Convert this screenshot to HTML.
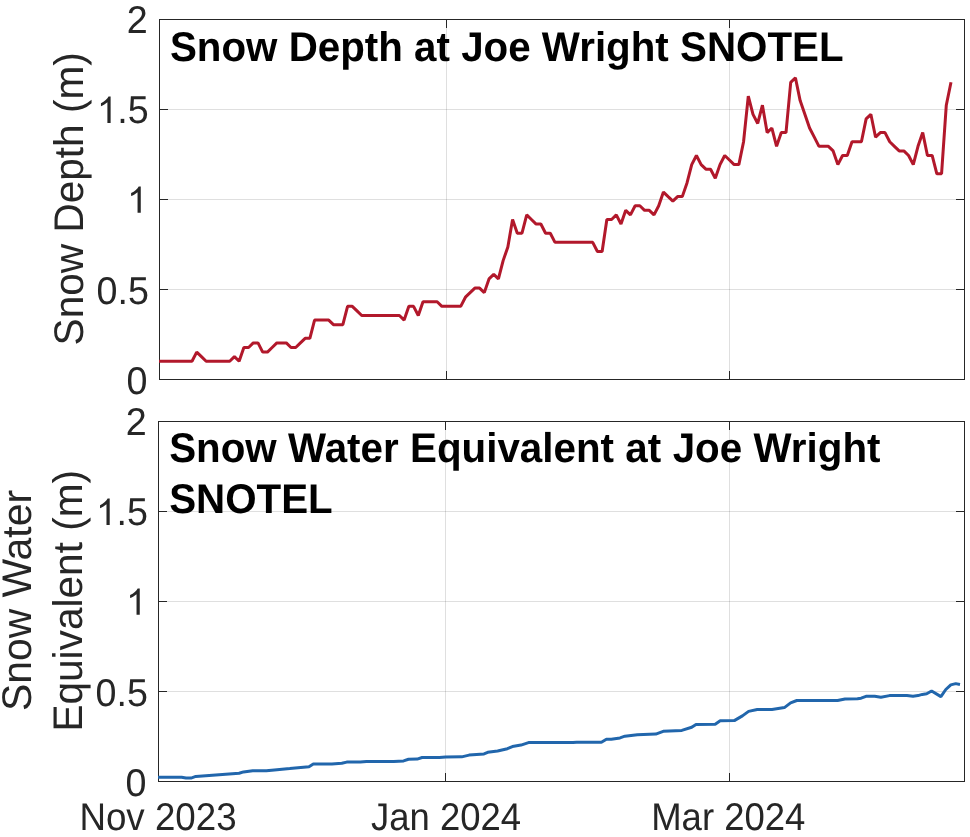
<!DOCTYPE html>
<html><head><meta charset="utf-8"><title>Snow Depth and SWE at Joe Wright SNOTEL</title>
<style>
html,body{margin:0;padding:0;background:#fff;}
body{width:970px;height:837px;overflow:hidden;}
svg{display:block;font-family:"Liberation Sans",sans-serif;will-change:transform;}
text{text-rendering:geometricPrecision;}
</style></head><body>
<svg width="970" height="837" viewBox="0 0 970 837">
<rect width="970" height="837" fill="#fff"/>
<!-- top axes -->
<rect x="159" y="289" width="805" height="1" fill="rgba(38,38,38,0.15)"/>
<rect x="159" y="199" width="805" height="1" fill="rgba(38,38,38,0.15)"/>
<rect x="159" y="109" width="805" height="1" fill="rgba(38,38,38,0.15)"/>
<rect x="446" y="19" width="1" height="360" fill="rgba(38,38,38,0.15)"/>
<rect x="729" y="19" width="1" height="360" fill="rgba(38,38,38,0.15)"/>
<rect x="159" y="19" width="806" height="1" fill="#262626"/>
<rect x="159" y="379" width="806" height="1" fill="#262626"/>
<rect x="159" y="19" width="1" height="361" fill="#262626"/>
<rect x="964" y="19" width="1" height="361" fill="#262626"/>
<rect x="159" y="289" width="9" height="1" fill="#262626"/>
<rect x="956" y="289" width="9" height="1" fill="#262626"/>
<rect x="159" y="199" width="9" height="1" fill="#262626"/>
<rect x="956" y="199" width="9" height="1" fill="#262626"/>
<rect x="159" y="109" width="9" height="1" fill="#262626"/>
<rect x="956" y="109" width="9" height="1" fill="#262626"/>
<rect x="446" y="19" width="1" height="9" fill="#262626"/>
<rect x="446" y="371" width="1" height="9" fill="#262626"/>
<rect x="729" y="19" width="1" height="9" fill="#262626"/>
<rect x="729" y="371" width="1" height="9" fill="#262626"/>
<polyline points="159.00,361.21 163.71,361.21 168.43,361.21 173.14,361.21 177.86,361.21 182.57,361.21 187.29,361.21 192.00,361.21 196.71,352.07 201.43,356.64 206.14,361.21 210.86,361.21 215.57,361.21 220.29,361.21 225.00,361.21 229.71,361.21 234.43,356.64 239.14,361.21 243.86,347.50 248.57,347.50 253.29,342.92 258.00,342.92 262.71,352.07 267.43,352.07 272.14,347.50 276.86,342.92 281.57,342.92 286.29,342.92 291.00,347.50 295.71,347.50 300.43,342.92 305.14,338.35 309.86,338.35 314.57,320.06 319.29,320.06 324.00,320.06 328.71,320.06 333.43,324.64 338.14,324.64 342.86,324.64 347.57,306.35 352.29,306.35 357.00,310.92 361.71,315.49 366.43,315.49 371.14,315.49 375.86,315.49 380.57,315.49 385.29,315.49 390.00,315.49 394.71,315.49 399.43,315.49 404.14,320.06 408.86,306.35 413.57,306.35 418.29,315.49 423.00,301.78 427.72,301.78 432.43,301.78 437.14,301.78 441.86,306.35 446.57,306.35 451.29,306.35 456.00,306.35 460.72,306.35 465.43,297.20 470.14,292.63 474.86,288.06 479.57,288.06 484.29,292.63 489.00,278.92 493.72,274.34 498.43,278.92 503.14,260.63 507.86,246.91 512.57,219.48 517.29,233.20 522.00,233.20 526.72,214.91 531.43,219.48 536.14,224.05 540.86,224.05 545.57,233.20 550.29,233.20 555.00,242.34 559.72,242.34 564.43,242.34 569.14,242.34 573.86,242.34 578.57,242.34 583.29,242.34 588.00,242.34 592.72,242.34 597.43,251.48 602.14,251.48 606.86,219.48 611.57,219.48 616.29,214.91 621.00,224.05 625.72,210.34 630.43,214.91 635.14,205.76 639.86,205.76 644.57,210.34 649.29,210.34 654.00,214.91 658.72,205.76 663.43,192.05 668.14,196.62 672.86,201.19 677.57,196.62 682.29,196.62 687.00,182.90 691.72,164.62 696.43,155.47 701.14,164.62 705.86,169.19 710.57,169.19 715.29,178.33 720.00,164.62 724.72,155.47 729.43,160.04 734.14,164.62 738.86,164.62 743.57,141.76 748.29,96.04 753.00,114.32 757.72,123.47 762.43,105.18 767.14,132.61 771.86,128.04 776.57,146.33 781.29,132.61 786.00,132.61 790.72,82.32 795.43,77.75 800.14,100.61 804.86,114.32 809.57,128.04 814.29,137.18 819.00,146.33 823.72,146.33 828.43,146.33 833.14,150.90 837.86,164.62 842.57,155.47 847.29,155.47 852.00,141.76 856.72,141.76 861.43,141.76 866.14,118.90 870.86,114.32 875.57,137.18 880.29,132.61 885.00,132.61 889.72,141.76 894.43,146.33 899.15,150.90 903.86,150.90 908.57,155.47 913.29,164.62 918.00,146.33 922.72,132.61 927.43,155.47 932.15,155.47 936.86,173.76 941.57,173.76 946.29,105.18 951.00,82.32" fill="none" stroke="#b2182b" stroke-width="3" stroke-linejoin="bevel" stroke-linecap="butt"/>
<text transform="translate(147.53,394.30) scale(1.01,1.04)" text-anchor="end" font-size="37.33" fill="#262626">0</text>
<text transform="translate(148.90,304.20) scale(1.01,1.04)" text-anchor="end" font-size="37.33" fill="#262626">0.5</text>
<path transform="translate(127.11,212.75) scale(0.017905,-0.017905)" d="M763 0H583V1147Q518 1085 412.5 1023Q307 961 223 930V1104Q374 1175 487 1276Q600 1377 647 1472H763Z" fill="#262626"/>
<path transform="translate(96.96,122.90) scale(0.017905,-0.017905)" d="M763 0H583V1147Q518 1085 412.5 1023Q307 961 223 930V1104Q374 1175 487 1276Q600 1377 647 1472H763Z" fill="#262626"/>
<text transform="translate(148.80,122.90) scale(1.01,1.04)" text-anchor="end" font-size="37.33" fill="#262626">.5</text>
<text transform="translate(147.72,32.90) scale(1.01,1.04)" text-anchor="end" font-size="37.33" fill="#262626">2</text>
<text transform="translate(169.9,60.6) scale(1,1.03)" font-size="40.33" font-weight="bold" fill="#000">Snow Depth at Joe Wright SNOTEL</text>
<text transform="translate(83,198.8) rotate(-90) scale(1,1.02)" text-anchor="middle" font-size="40.6" fill="#262626">Snow Depth (m)</text>
<!-- bottom axes -->
<rect x="158" y="691" width="806" height="1" fill="rgba(38,38,38,0.15)"/>
<rect x="158" y="601" width="806" height="1" fill="rgba(38,38,38,0.15)"/>
<rect x="158" y="511" width="806" height="1" fill="rgba(38,38,38,0.15)"/>
<rect x="445" y="421" width="1" height="360" fill="rgba(38,38,38,0.15)"/>
<rect x="729" y="421" width="1" height="360" fill="rgba(38,38,38,0.15)"/>
<rect x="158" y="421" width="807" height="1" fill="#262626"/>
<rect x="158" y="781" width="807" height="1" fill="#262626"/>
<rect x="158" y="421" width="1" height="361" fill="#262626"/>
<rect x="964" y="421" width="1" height="361" fill="#262626"/>
<rect x="158" y="691" width="9" height="1" fill="#262626"/>
<rect x="956" y="691" width="9" height="1" fill="#262626"/>
<rect x="158" y="601" width="9" height="1" fill="#262626"/>
<rect x="956" y="601" width="9" height="1" fill="#262626"/>
<rect x="158" y="511" width="9" height="1" fill="#262626"/>
<rect x="956" y="511" width="9" height="1" fill="#262626"/>
<rect x="445" y="421" width="1" height="9" fill="#262626"/>
<rect x="445" y="773" width="1" height="9" fill="#262626"/>
<rect x="729" y="421" width="1" height="9" fill="#262626"/>
<rect x="729" y="773" width="1" height="9" fill="#262626"/>
<polyline points="158.00,777.30 181.60,777.30 186.00,778.10 191.00,778.10 195.80,776.40 239.10,773.30 243.50,771.90 252.70,770.80 266.30,770.70 274.40,769.90 289.80,768.50 309.00,766.65 313.30,763.90 331.90,763.90 341.80,763.30 346.70,762.10 360.30,761.95 366.50,761.50 393.70,761.60 403.60,760.90 408.50,759.30 417.20,759.10 422.10,757.50 439.40,757.50 445.60,757.00 461.70,756.85 469.10,755.10 484.00,753.90 487.70,752.30 497.60,751.00 507.40,748.70 512.40,746.60 521.00,745.10 528.50,742.60 573.00,742.60 576.70,742.30 601.40,742.30 606.40,739.20 611.30,739.20 620.00,737.90 624.90,736.20 637.30,734.70 655.80,734.10 663.20,731.35 681.80,730.40 691.70,727.30 696.00,724.50 715.20,724.20 720.20,720.80 734.30,720.60 742.40,715.90 748.60,711.35 757.20,709.50 772.00,709.40 784.40,707.60 790.60,702.90 796.80,700.50 837.60,700.50 845.00,699.00 857.40,698.70 861.10,698.20 866.00,696.35 874.70,696.35 880.90,697.20 889.50,695.60 906.90,695.60 913.00,696.20 918.00,695.60 922.30,694.40 926.70,693.75 931.60,691.00 940.90,696.60 945.80,689.50 950.80,684.85 955.70,683.60 960.00,684.50" fill="none" stroke="#2166ac" stroke-width="3" stroke-linejoin="bevel" stroke-linecap="butt"/>
<text transform="translate(146.55,795.95) scale(1.01,1.04)" text-anchor="end" font-size="37.33" fill="#262626">0</text>
<text transform="translate(148.03,706.10) scale(1.01,1.04)" text-anchor="end" font-size="37.33" fill="#262626">0.5</text>
<path transform="translate(126.09,614.75) scale(0.017905,-0.017905)" d="M763 0H583V1147Q518 1085 412.5 1023Q307 961 223 930V1104Q374 1175 487 1276Q600 1377 647 1472H763Z" fill="#262626"/>
<path transform="translate(96.04,524.90) scale(0.017905,-0.017905)" d="M763 0H583V1147Q518 1085 412.5 1023Q307 961 223 930V1104Q374 1175 487 1276Q600 1377 647 1472H763Z" fill="#262626"/>
<text transform="translate(147.88,524.90) scale(1.01,1.04)" text-anchor="end" font-size="37.33" fill="#262626">.5</text>
<text transform="translate(146.70,434.90) scale(1.01,1.04)" text-anchor="end" font-size="37.33" fill="#262626">2</text>
<text transform="translate(169.15,461.8) scale(1,1.03)" font-size="40.33" font-weight="bold" word-spacing="0.2" fill="#000">Snow Water Equivalent at Joe Wright</text>
<text transform="translate(169.15,512.8) scale(1,1.03)" font-size="40.33" font-weight="bold" fill="#000">SNOTEL</text>
<text transform="translate(31.3,600.5) rotate(-90) scale(1.0067,1.02)" text-anchor="middle" font-size="40.6" fill="#262626">Snow Water</text>
<text transform="translate(82.2,600.8) rotate(-90) scale(1,1.02)" text-anchor="middle" font-size="40.6" fill="#262626">Equivalent (m)</text>
<text transform="translate(158.0,829.6) scale(1.002,1.055)" text-anchor="middle" font-size="36.67" fill="#262626">Nov 2023</text>
<text transform="translate(446.0,829.6) scale(0.995,1.055)" text-anchor="middle" font-size="36.67" fill="#262626">Jan 2024</text>
<text transform="translate(728.3,829.6) scale(0.996,1.055)" text-anchor="middle" font-size="36.67" fill="#262626">Mar 2024</text>
</svg>
</body></html>
